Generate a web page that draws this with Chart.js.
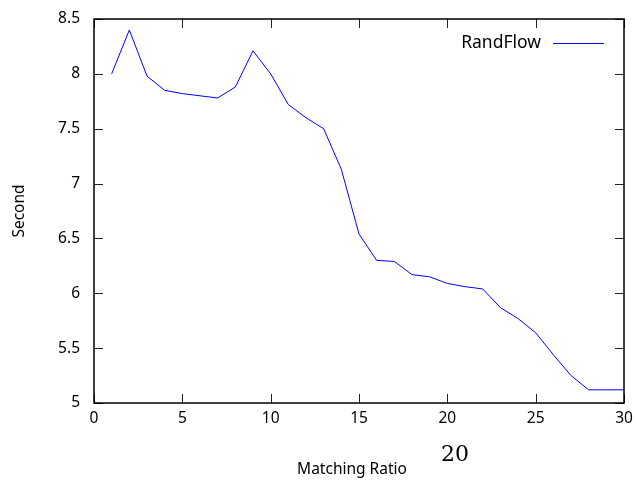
<!DOCTYPE html>
<html>
<head>
<meta charset="utf-8">
<script src="https://cdn.jsdelivr.net/npm/chart.js@4"></script>
<style>
  html, body { margin: 0; padding: 0; background: #fff; }
  #wrap { width: 637px; height: 484px; }
</style>
</head>
<body>
<div id="wrap"><canvas id="chart"></canvas></div>
<script>
const ratio = [1, 2, 3, 4, 5, 6, 7, 8, 9, 10, 11, 12, 13, 14, 15,
               16, 17, 18, 19, 20, 21, 22, 23, 24, 25, 26, 27, 28, 29, 30];
const seconds = [8.00, 8.40, 7.98, 7.85, 7.82, 7.80, 7.78, 7.88, 8.21, 8.00,
                 7.72, 7.60, 7.50, 7.13, 6.54, 6.30, 6.29, 6.17, 6.15, 6.09,
                 6.06, 6.04, 5.87, 5.77, 5.64, 5.44, 5.25, 5.12, 5.12, 5.12];
const seriesName = 'RandFlow';
const xTicks = [0, 5, 10, 15, 20, 25, 30];
const yTicks = [5, 5.5, 6, 6.5, 7, 7.5, 8, 8.5];

const FONT = '"Noto Sans", sans-serif';
const FSIZE = 15.5;

// border, inward ticks on all sides, axis titles, legend
const frame = {
    id: 'frame',
    afterDraw(chart) {
        const ctx = chart.ctx;
        const a = chart.chartArea;
        const xs = chart.scales.x, ys = chart.scales.y;
        ctx.save();
        ctx.strokeStyle = '#222';
        ctx.lineWidth = 1;
        ctx.beginPath();
        xTicks.forEach(v => {
            const px = Math.round(xs.getPixelForValue(v)) + 0.5;
            ctx.moveTo(px, a.bottom); ctx.lineTo(px, a.bottom - 9);
            ctx.moveTo(px, a.top); ctx.lineTo(px, a.top + 9);
        });
        yTicks.forEach(v => {
            const py = Math.round(ys.getPixelForValue(v)) + 0.5;
            ctx.moveTo(a.left, py); ctx.lineTo(a.left + 9, py);
            ctx.moveTo(a.right, py); ctx.lineTo(a.right - 9, py);
        });
        ctx.stroke();
        ctx.strokeStyle = '#000';
        ctx.lineWidth = 1.5;
        ctx.strokeRect(a.left, a.top, a.right - a.left, a.bottom - a.top);

        ctx.fillStyle = '#000';
        ctx.font = FSIZE + 'px ' + FONT;
        ctx.textAlign = 'center';
        ctx.textBaseline = 'middle';
        ctx.fillText('Matching Ratio', 352, 470);
        ctx.save();
        ctx.translate(20, 211);
        ctx.rotate(-Math.PI / 2);
        ctx.fillText('Second', 0, 0);
        ctx.restore();

        ctx.font = '22px "DejaVu Serif", "Liberation Serif", serif';
        ctx.fillText('20', 455, 455);

        // legend
        const ds = chart.data.datasets[0];
        ctx.font = '17.5px ' + FONT;
        ctx.textAlign = 'right';
        ctx.fillText(ds.label, 541, 43);
        ctx.strokeStyle = ds.borderColor;
        ctx.lineWidth = 1;
        ctx.beginPath();
        ctx.moveTo(553, 43.5); ctx.lineTo(604, 43.5);
        ctx.stroke();
        ctx.restore();
    }
};

const config = {
    type: 'line',
    data: {
        labels: ratio,
        datasets: [{
            label: seriesName,
            data: ratio.map((r, i) => ({ x: r, y: seconds[i] })),
            borderColor: 'rgb(0, 0, 255)',
            borderWidth: 1,
            pointRadius: 0,
            tension: 0,
            fill: false
        }]
    },
    options: {
        responsive: true,
        maintainAspectRatio: false,
        animation: false,
        layout: { padding: { top: 19, right: 13, left: 0, bottom: 0 } },
        plugins: { legend: { display: false }, tooltip: { enabled: false } },
        scales: {
            x: {
                type: 'linear',
                min: 0, max: 30,
                afterFit: s => { s.height = 81; s.paddingLeft = 0; s.paddingRight = 0; },
                afterBuildTicks: s => { s.ticks = xTicks.map(v => ({ value: v })); },
                grid: { display: false, drawTicks: false },
                border: { display: false },
                ticks: { color: '#000', font: { family: FONT, size: FSIZE }, padding: 6, maxRotation: 0,
                         callback: v => String(v) }
            },
            y: {
                type: 'linear',
                min: 5, max: 8.5,
                afterFit: s => { s.width = 94; s.paddingTop = 0; s.paddingBottom = 0; },
                afterBuildTicks: s => { s.ticks = yTicks.map(v => ({ value: v })); },
                grid: { display: false, drawTicks: false },
                border: { display: false },
                ticks: { color: '#000', font: { family: FONT, size: FSIZE }, padding: 14,
                         callback: v => String(v) }
            }
        }
    },
    plugins: [frame]
};

const myChart = new Chart(document.getElementById('chart'), config);
</script>
</body>
</html>
